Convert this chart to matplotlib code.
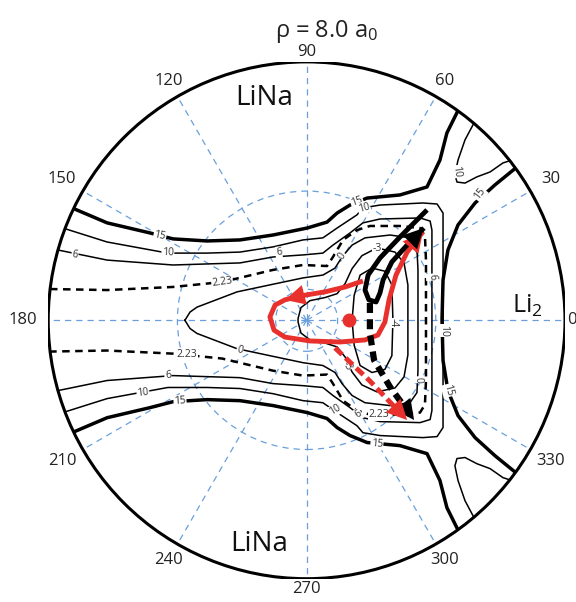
import numpy as np
import matplotlib.pyplot as plt
from matplotlib.patches import Circle

plt.rcParams['font.family'] = ['Open Sans', 'DejaVu Sans']
plt.rcParams['mathtext.default'] = 'regular'

# polar grid: hyperangle labels (deg) and dashed circle radii (rim = 1)
angles = [0, 30, 60, 90, 120, 150, 180, 210, 240, 270, 300, 330]
grid_radii = [0.12, 0.5]

# contour lines, x/y in units of the rim radius
c15_ul_x = [-0.908, -0.772, -0.606, -0.517, -0.385, -0.258, -0.130, 0.002, 0.079, 0.118, 0.168, 0.234, 0.361, 0.466, 0.516, 0.543, 0.595]
c15_ul_y = [0.435, 0.377, 0.338, 0.315, 0.307, 0.311, 0.330, 0.357, 0.380, 0.415, 0.446, 0.473, 0.485, 0.516, 0.620, 0.725, 0.830]
c15_ll_x = [-0.908, -0.772, -0.606, -0.517, -0.385, -0.258, -0.130, 0.002, 0.079, 0.118, 0.168, 0.234, 0.361, 0.466, 0.516, 0.543, 0.595]
c15_ll_y = [-0.435, -0.377, -0.338, -0.315, -0.307, -0.311, -0.330, -0.357, -0.380, -0.415, -0.446, -0.473, -0.485, -0.516, -0.620, -0.725, -0.830]
c15_r_x = [0.815, 0.729, 0.652, 0.586, 0.547, 0.528, 0.524, 0.528, 0.547, 0.586, 0.652, 0.729, 0.815]
c15_r_y = [0.594, 0.524, 0.454, 0.369, 0.272, 0.156, 0.0, -0.156, -0.272, -0.369, -0.454, -0.524, -0.594]

c10_x = [-0.943, -0.772, -0.537, -0.385, -0.258, -0.130, -0.014, 0.063, 0.118, 0.195, 0.218, 0.284, 0.450, 0.505, 0.528, 0.528,
         0.528,
         0.528, 0.528, 0.505, 0.450, 0.284, 0.218, 0.195, 0.118, 0.063, -0.014, -0.130, -0.258, -0.385, -0.537, -0.772, -0.943]
c10_y = [0.357, 0.303, 0.260, 0.260, 0.264, 0.284, 0.311, 0.319, 0.357, 0.408, 0.435, 0.446, 0.454, 0.450, 0.415, 0.311,
         0.0,
         -0.311, -0.415, -0.450, -0.454, -0.446, -0.435, -0.408, -0.357, -0.319, -0.311, -0.284, -0.264, -0.260, -0.260, -0.303, -0.357]
c10_ur_x = [0.648, 0.613, 0.586, 0.574, 0.582, 0.613, 0.659, 0.710, 0.760, 0.795]
c10_ur_y = [0.764, 0.698, 0.620, 0.563, 0.535, 0.531, 0.555, 0.574, 0.609, 0.620]
c10_lr_x = [0.648, 0.613, 0.586, 0.574, 0.582, 0.613, 0.659, 0.710, 0.760, 0.795]
c10_lr_y = [-0.764, -0.698, -0.620, -0.563, -0.535, -0.531, -0.555, -0.574, -0.609, -0.620]

c6_x = [-0.962, -0.772, -0.517, -0.258, -0.130, -0.014, 0.063, 0.102, 0.168, 0.218, 0.284, 0.439, 0.478, 0.485, 0.485,
        0.485,
        0.485, 0.485, 0.478, 0.439, 0.284, 0.218, 0.168, 0.102, 0.063, -0.014, -0.130, -0.258, -0.517, -0.772, -0.962]
c6_y = [0.272, 0.233, 0.214, 0.222, 0.245, 0.253, 0.260, 0.291, 0.338, 0.377, 0.392, 0.396, 0.384, 0.349, 0.233,
        0.0,
        -0.233, -0.349, -0.384, -0.396, -0.392, -0.377, -0.338, -0.291, -0.260, -0.253, -0.245, -0.222, -0.214, -0.233, -0.272]

c223_x = [-0.993, -0.772, -0.517, -0.327, -0.130, -0.014, 0.079, 0.102, 0.141, 0.195, 0.245, 0.361, 0.439, 0.458, 0.462,
          0.462,
          0.462, 0.458, 0.439, 0.361, 0.245, 0.195, 0.141, 0.102, 0.079, -0.014, -0.130, -0.327, -0.517, -0.772, -0.993]
c223_y = [0.121, 0.117, 0.129, 0.148, 0.195, 0.214, 0.210, 0.245, 0.311, 0.349, 0.365, 0.365, 0.357, 0.326, 0.233,
          0.0,
          -0.233, -0.326, -0.357, -0.365, -0.365, -0.349, -0.311, -0.245, -0.210, -0.214, -0.195, -0.148, -0.129, -0.117, -0.121]

c0_x = [-0.471, -0.451, -0.424, -0.269, -0.142, -0.014, 0.063, 0.110, 0.137, 0.176, 0.226, 0.323, 0.400, 0.427, 0.431,
        0.431,
        0.431, 0.427, 0.400, 0.323, 0.226, 0.176, 0.137, 0.110, 0.063, -0.014, -0.142, -0.269, -0.424, -0.451, -0.471]
c0_y = [0.0, 0.032, 0.051, 0.110, 0.137, 0.164, 0.175, 0.202, 0.245, 0.291, 0.319, 0.330, 0.319, 0.280, 0.195,
        0.0,
        -0.195, -0.280, -0.319, -0.330, -0.319, -0.291, -0.245, -0.202, -0.175, -0.164, -0.137, -0.110, -0.051, -0.032, 0.0]

cm3_x = [0.272, 0.342, 0.377, 0.392, 0.392, 0.392, 0.377, 0.342, 0.272, 0.214, 0.176, 0.149, 0.118, 0.071, 0.013, -0.022, -0.033,
         -0.033, -0.022, 0.013, 0.071, 0.118, 0.149, 0.176, 0.214, 0.272]
cm3_y = [0.280, 0.264, 0.222, 0.137, 0.0, -0.134, -0.219, -0.262, -0.277, -0.250, -0.200, -0.142, -0.103, -0.088, -0.076, -0.049, -0.007,
         0.007, 0.049, 0.076, 0.088, 0.103, 0.142, 0.200, 0.250, 0.280]
cm4_x = [0.253, 0.303, 0.330, 0.334, 0.330, 0.303, 0.253, 0.207, 0.184, 0.176, 0.184, 0.207, 0.253]
cm4_y = [0.202, 0.190, 0.137, 0.0, -0.137, -0.190, -0.202, -0.175, -0.096, 0.0, 0.096, 0.175, 0.202]

# contour labels: text, x, y, rotation
contour_labels = [
    ('15', -0.568, 0.326, -12), ('10', -0.537, 0.260, -2), ('6', -0.897, 0.252, -8),
    ('6', -0.107, 0.262, 5), ('2.23', -0.327, 0.148, 8), ('0', 0.137, 0.250, 55),
    ('15', 0.195, 0.458, 20), ('10', 0.222, 0.436, 15), ('-3', 0.272, 0.278, 0),
    ('6', 0.485, 0.167, -85), ('10', 0.528, -0.04, -90), ('15', 0.671, 0.488, 52),
    ('15', 0.547, -0.272, -75), ('10', 0.578, 0.575, -82), ('0', 0.431, -0.23, -88),
    ('-4', 0.334, -0.01, -90), ('-3', 0.156, -0.175, -62), ('2.23', -0.463, -0.132, 0),
    ('0', -0.258, -0.115, -14), ('6', -0.537, -0.214, 2), ('10', -0.633, -0.282, 6),
    ('15', -0.490, -0.312, 4), ('10', 0.11, -0.348, 30), ('6', 0.20, -0.363, 35),
    ('2.23', 0.28, -0.365, 0), ('15', 0.272, -0.478, -5),
]

# reaction paths
red_x = [0.218, 0.149, 0.071, -0.026, -0.084, -0.122, -0.142, -0.126, -0.084, 0.013, 0.129, 0.226, 0.276, 0.303, 0.319, 0.346, 0.389, 0.450]
red_y = [0.152, 0.129, 0.110, 0.094, 0.079, 0.059, 0.013, -0.038, -0.065, -0.080, -0.084, -0.076, -0.057, -0.007, 0.079, 0.175, 0.264, 0.342]
red_dash_x = [0.110, 0.245, 0.389]
red_dash_y = [-0.107, -0.235, -0.386]
black_x = [0.466, 0.361, 0.284, 0.238, 0.226, 0.241, 0.269, 0.284, 0.296, 0.330, 0.389, 0.454]
black_y = [0.427, 0.322, 0.241, 0.175, 0.117, 0.079, 0.071, 0.106, 0.156, 0.226, 0.291, 0.357]
black_dash_x = [0.245, 0.245, 0.261, 0.323, 0.416]
black_dash_y = [0.067, -0.049, -0.154, -0.258, -0.386]
red_dot = (0.164, 0.0)

RED = '#e8302c'
BLUE = '#6a9fdc'

fig = plt.figure(figsize=(5.76, 6.02), dpi=100)
ax = fig.add_axes([0.0837, 0.0387, 0.8972, 0.8585])
ax.set_xlim(-1, 1)
ax.set_ylim(-1, 1)
ax.axis('off')

clip = Circle((0, 0), 1, transform=ax.transData)

# blue dashed polar grid
for a in angles:
  t = np.deg2rad(a)
  ax.plot([0, np.cos(t)], [0, np.sin(t)], color=BLUE, lw=0.9, ls=(0, (5.0, 4.0)), zorder=1)
for r in grid_radii:
  ax.add_patch(Circle((0, 0), r, fill=False, ec=BLUE, lw=0.9, ls=(0, (5.0, 4.0)), zorder=1))


def contour(xs, ys, lw=1.1, ls='-'):
  ln, = ax.plot(xs, ys, color='black', lw=lw, ls=ls, solid_joinstyle='round', zorder=3)
  ln.set_clip_path(clip)


contour(c15_ul_x, c15_ul_y, lw=2.5)
contour(c15_ll_x, c15_ll_y, lw=2.5)
contour(c15_r_x, c15_r_y, lw=2.5)
contour(c10_x, c10_y)
contour(c10_ur_x, c10_ur_y)
contour(c10_lr_x, c10_lr_y)
contour(c6_x, c6_y)
contour(c223_x, c223_y, lw=1.8, ls=(0, (3, 2.2)))
contour(c0_x, c0_y)
contour(cm3_x, cm3_y)
contour(cm4_x, cm4_y)

for txt, x, y, rot in contour_labels:
  ax.text(x, y, txt, fontsize=7.5, color='#333333', rotation=rot,
          ha='center', va='center', rotation_mode='anchor', zorder=4,
          bbox=dict(boxstyle='square,pad=0.05', fc='white', ec='none'))

# outer rim
ax.add_patch(Circle((0, 0), 1, fill=False, ec='black', lw=2.2, zorder=5))


def head(x0, y0, x1, y1, color):
  ax.annotate('', xy=(x1, y1), xytext=(x0, y0),
              arrowprops=dict(arrowstyle='-|>,head_length=0.9,head_width=0.45', color=color,
                              lw=0, shrinkA=0, shrinkB=0, mutation_scale=16), zorder=7)


ax.plot(red_x, red_y, color=RED, lw=3.5, solid_capstyle='butt', solid_joinstyle='round', zorder=6)
head(red_x[3], red_y[3], red_x[4], red_y[4], RED)
head(red_x[-2], red_y[-2], red_x[-1], red_y[-1], RED)
ax.plot(black_x, black_y, color='black', lw=3.5, solid_capstyle='butt', solid_joinstyle='round', zorder=6)
head(black_x[-2], black_y[-2], black_x[-1], black_y[-1], 'black')
ax.plot(black_dash_x, black_dash_y, color='black', lw=4.5, ls=(0, (1.6, 1.0)), zorder=6)
head(black_dash_x[-2], black_dash_y[-2], black_dash_x[-1], black_dash_y[-1], 'black')
ax.plot(red_dash_x, red_dash_y, color=RED, lw=3.5, ls=(0, (2.0, 1.0)), zorder=6)
head(red_dash_x[-2], red_dash_y[-2], red_dash_x[-1], red_dash_y[-1], RED)
ax.plot(*red_dot, 'o', color=RED, ms=9, zorder=7)

# angle labels round the rim
for a in angles:
  t = np.deg2rad(a)
  if a == 0:
    ax.text(1.01, 0, '0', fontsize=12, ha='left', va='center', color='#222222')
    continue
  r = 1.04 + 0.06 * abs(np.cos(t))
  ax.text(r * np.cos(t), r * np.sin(t), str(a), fontsize=12, ha='center', va='center', color='#222222')

ax.text(-0.164, 0.859, 'LiNa', fontsize=20, ha='center', va='center', color='#111111')
ax.text(-0.184, -0.866, 'LiNa', fontsize=20, ha='center', va='center', color='#111111')
ax.text(0.795, 0.028, r'Li$_2$', fontsize=18, ha='left', va='baseline', color='#111111')

fig.text(0.568, 0.9385, r'ρ = 8.0 a$_0$', fontsize=17, ha='center', va='baseline', color='#222222')

fig.savefig('out.png', dpi=100)
